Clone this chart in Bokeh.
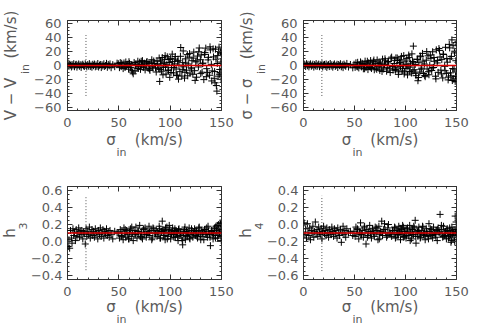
from bokeh.plotting import figure
from bokeh.models import (Range1d, SingleIntervalTicker, LinearAxis, Span, Title,
                          CustomJSTickFormatter)
from bokeh.layouts import gridplot
from bokeh.embed import file_html
from bokeh.resources import INLINE

# ---------------- data ----------------
sigma_in = [
    0.6, 1.4, 2.1, 2.9, 3.8, 4.4, 5.3, 6.1, 6.8, 7.7,
    8.5, 9.2, 10.1, 10.9, 11.6, 12.4, 13.3, 14.0, 14.9, 15.7,
    16.4, 17.3, 18.1, 18.8, 19.7, 20.6, 21.3, 22.2, 22.9, 23.8,
    24.6, 25.3, 26.2, 27.1, 27.8, 28.7, 29.5, 30.3, 31.2, 32.0,
    32.9, 33.6, 34.5, 35.4, 36.2, 37.1, 38.0, 38.8, 39.7, 40.6,
    41.4, 42.5, 44.1, 46.0, 48.3,
    49.5, 50.6, 51.4, 52.3, 53.1, 54.2, 55.0, 55.9, 56.8, 57.6,
    58.7, 59.5, 60.4, 61.3, 62.1, 63.2, 64.0, 64.9, 65.8, 66.6,
    67.7, 68.5, 69.4, 70.3, 71.1, 72.2, 73.0, 73.9, 74.8, 75.6,
    76.7, 77.5, 78.6, 79.4, 80.3, 81.5, 82.6, 84.0, 85.7, 87.8,
    88.9, 89.8, 90.6, 91.5, 92.3, 93.4, 94.2, 95.1, 96.0, 96.8,
    97.9, 98.7, 99.6, 100.5, 101.3, 102.4, 103.2, 104.1, 105.0, 105.8,
    106.9, 107.7, 108.6, 109.5, 110.3, 111.4, 112.2, 113.1, 114.0, 114.8,
    115.9, 116.7, 117.6, 118.5, 119.3, 120.4, 121.2, 122.1, 123.0, 123.8,
    124.9, 125.7, 126.6, 127.5, 128.3, 129.4, 130.2, 131.1, 132.0, 132.8,
    133.9, 134.7, 135.6, 136.5, 137.3, 138.4, 139.2, 140.1, 141.0, 141.8,
    142.9, 143.7, 144.6, 145.5, 146.3, 147.2, 148.0, 148.7, 149.3, 149.8,
    52.8, 56.2, 59.9, 62.6, 66.1, 69.0, 71.8, 74.3, 77.0, 79.9,
    82.1, 83.3, 85.0, 86.4, 87.2, 89.3, 90.1, 91.9, 93.0, 94.7,
    95.5, 97.2, 98.3, 99.1, 100.8, 102.0, 103.7, 104.6, 106.3, 107.3,
    108.1, 110.0, 111.8, 112.7, 114.4, 115.3, 117.1, 118.9, 120.8, 122.5,
    124.3, 126.1, 127.9, 129.8, 131.5, 133.4, 135.2, 136.9, 138.8, 140.5,
    142.2, 143.3, 144.1, 145.0, 145.9, 146.7, 147.6, 148.3, 149.0, 149.6,
]

dv = [
    3.5, -1.2, 2.0, 0.5, -2.1, 1.4, -0.6, 2.6, -1.8, 0.9,
    1.7, -2.4, 0.3, 2.2, -1.1, 1.0, -2.8, 0.7, 1.9, -0.4,
    -1.5, 2.4, 0.2, -2.0, 1.3, -0.9, 2.7, -1.6, 0.6, -2.5,
    1.8, -0.3, 2.1, -1.9, 0.8, -1.2, 2.9, -2.2, 0.4, 1.5,
    -3.0, 1.1, -0.7, 2.5, -1.4, 0.0, 3.1, -2.6, 1.6, -0.5,
    2.3, -3.2, 1.2, -1.7, 3.4,
    2.5, -3.1, 4.2, -1.6, 0.8, -4.5, 3.6, -2.2, 5.1, -0.7,
    1.9, -5.3, 3.0, -2.8, 0.4, -9.5, -12.0, 4.4, -7.8, 2.1,
    -3.9, 6.2, -1.3, 4.8, -5.6, 1.5, 7.0, -2.6, 3.3, -6.4,
    0.9, 5.7, -4.1, 2.8, -7.1, 4.0, -1.8, 6.5, -3.4, 1.2,
    -4.1, -23.0, 6.3, -8.2, 11.5, -2.7, 3.9, 14.2, -12.4, 1.8,
    -6.5, 8.7, -17.1, 10.3, -3.2, 5.6, -10.8, 2.4, 12.9, -5.1,
    -14.6, 7.4, 0.6, -8.9, 26.0, -15.3, 4.1, -1.9, -18.2, 9.6,
    -6.8, 15.7, 2.2, 12.1, -11.0, -3.3, 6.9, -12.7, 19.4, -7.5,
    5.2, -16.9, 13.6, -2.1, 25.3, 8.4, 15.2, -9.7, 3.5, -20.4,
    18.6, 25.1, -4.6, -10.3, 11.8, -14.1, 22.5, 1.7, -7.8, 24.0,
    -18.5, -25.0, 9.1, -37.0, 14.3, 20.2, -12.6, -10.2, 5.0, 16.8,
    3.2, -2.4, 5.5, -6.8, 1.1, -4.3, 6.1, -1.9, 4.7, -5.2,
    8.3, -3.6, 2.9, -9.4, 6.7, 10.8, -5.9, 3.1, -13.5, 8.9,
    -2.2, 12.6, -7.4, 4.3, -10.1, 16.4, -3.0, 9.2, -13.8, 6.0,
    -19.7, 13.3, -6.1, 21.0, -9.8, 3.7, -14.9, 17.2, -4.8, 10.7,
    -21.5, 6.6, 19.8, -11.7, 2.6, 16.0, -16.2, 8.1, 27.0, -22.3,
    12.4, -8.8, 23.6, -29.0, 2.9, -15.4, 26.5, -5.7, 19.1, -19.9,
]

dsig = [
    2.1, 0.8, -1.5, 2.6, -0.4, 1.7, -2.0, 0.9, 2.4, -1.1,
    0.3, 1.9, -2.3, 1.2, -0.6, 2.8, -1.4, 0.5, 2.0, -1.8,
    1.0, -0.2, 2.5, -2.1, 0.7, 1.6, -1.0, 2.2, -2.7, 0.4,
    1.3, -1.6, 2.9, -0.8, 1.1, -2.4, 0.6, 2.3, -1.3, 0.1,
    1.8, -2.9, 1.4, -0.3, 2.6, -1.9, 0.9, -3.1, 2.0, 0.2,
    -1.2, 3.0, -2.2, 1.5, -3.4,
    1.8, -2.7, 3.9, -1.2, 4.6, -3.5, 0.6, 5.2, -2.0, 3.1,
    -4.8, 1.5, 6.3, -3.0, 2.4, -5.9, 4.0, -1.7, 7.1, -4.4,
    0.9, 5.6, -6.2, 2.7, -3.8, 8.0, -1.1, 4.9, -7.0, 3.4,
    -2.5, 9.2, -5.1, 1.6, 6.8, -8.3, 3.8, -4.0, 10.5, -6.6,
    2.8, -5.6, 11.0, -3.4, 7.2, -9.1, 4.5, -1.6, 13.2, -7.8,
    0.9, -12.3, 6.4, -4.2, 9.8, -2.0, 15.1, -8.6, 3.3, -10.9,
    5.7, 28.0, -6.1, 1.4, -14.7, 8.9, -22.0, 4.0, -9.5, 12.6,
    -3.8, 17.5, -11.6, 2.1, -16.2, 7.7, -5.0, 14.0, -13.4, 0.5,
    10.4, -7.2, 19.8, -2.9, 6.1, -15.5, 22.6, 3.7, -9.9, 24.5,
    12.3, -6.7, 8.5, -18.0, 15.9, -1.2, 26.3, -11.3, 4.8, -20.8,
    30.5, 9.6, -14.9, 37.0, -4.4, -19.6, 18.2, -23.0, 6.9, -8.0,
    -1.9, 3.5, -4.7, 6.2, -2.8, 7.9, -5.5, 2.4, -8.6, 9.7,
    -3.2, 5.8, -10.2, 12.1, -1.4, 7.5, -6.9, 10.9, -12.8, 3.6,
    8.2, -4.6, 14.3, -9.3, 1.7, -13.6, 11.4, -2.3, 16.8, -7.9,
    4.9, -11.2, 9.0, -17.4, 13.7, -5.3, 6.3, -14.5, 20.1, -9.0,
    15.2, -3.5, 11.6, -19.3, 7.3, 21.8, -12.1, 16.5, -7.6, 10.2,
    -16.8, 25.4, -10.6, 13.1, -21.7, 28.6, -5.2, 20.7, -15.8, 33.0,
]

h3 = [
    -0.06, 0.02, -0.08, 0.13, 0.04, -0.02, 0.15, 0.07, 0.11, 0.01,
    0.14, 0.06, 0.10, 0.16, 0.05, 0.12, 0.08, 0.13, 0.03, 0.11,
    0.09, -0.03, 0.15, 0.06, 0.12, 0.08, 0.17, 0.04, 0.10, 0.14,
    0.07, 0.12, 0.05, 0.15, 0.09, 0.11, 0.03, 0.13, 0.08, 0.16,
    0.06, 0.10, 0.14, 0.04, 0.12, 0.09, 0.15, 0.07, 0.11, 0.05,
    0.13, 0.08, 0.03, 0.12, 0.10,
    0.10, 0.04, 0.14, 0.07, 0.12, 0.02, 0.16, 0.09, 0.05, 0.13,
    0.08, 0.03, 0.11, 0.15, 0.06, 0.10, 0.01, 0.13, 0.08, 0.17,
    0.04, 0.12, 0.09, 0.19, 0.06, 0.11, 0.03, 0.14, 0.08, 0.16,
    0.05, 0.12, 0.10, 0.18, 0.07, 0.13, 0.04, 0.15, 0.09, 0.11,
    0.09, 0.15, 0.04, 0.12, 0.24, 0.07, 0.13, 0.02, 0.10, 0.17,
    0.06, 0.11, 0.14, 0.03, 0.09, 0.16, 0.08, 0.12, 0.05, 0.13,
    0.10, 0.01, 0.15, 0.07, 0.11, 0.04, -0.04, 0.09, 0.14, 0.02,
    0.12, 0.06, 0.10, 0.16, 0.03, 0.08, 0.13, 0.05, 0.11, 0.15,
    0.07, 0.12, 0.04, 0.10, 0.17, 0.08, 0.13, 0.06, 0.11, 0.02,
    0.14, 0.09, 0.16, 0.05, 0.12, 0.08, -0.05, 0.13, 0.10, 0.03,
    0.15, 0.07, 0.18, 0.11, 0.04, 0.20, 0.09, 0.22, 0.14, 0.01,
    0.06, 0.14, 0.03, 0.17, 0.09, 0.12, 0.05, 0.15, 0.08, 0.11,
    0.02, 0.16, 0.10, 0.13, 0.06, 0.18, 0.04, 0.12, 0.14, 0.07,
    0.16, 0.03, 0.11, 0.19, 0.08, 0.13, 0.05, 0.15, 0.10, 0.06,
    0.14, 0.09, 0.01, 0.12, 0.17, 0.07, 0.11, 0.04, 0.15, 0.09,
    0.13, 0.06, 0.16, 0.02, 0.11, 0.14, 0.08, 0.18, 0.05, 0.12,
    0.09, 0.16, 0.04, 0.13, 0.19, 0.07, 0.15, 0.11, 0.21, 0.06,
]

h4 = [
    0.02, -0.12, -0.05, -0.16, 0.01, -0.09, -0.13, -0.04, -0.18, -0.07,
    -0.11, -0.02, -0.15, -0.08, 0.03, -0.10, -0.06, -0.14, -0.03, -0.09,
    -0.12, -0.05, -0.17, -0.08, -0.02, -0.11, -0.07, -0.13, -0.04, -0.10,
    -0.15, -0.06, -0.09, -0.12, -0.03, -0.08, -0.14, -0.05, -0.11, -0.07,
    -0.16, -0.04, -0.10, -0.13, -0.06, -0.21, -0.09, -0.02, -0.12, -0.07,
    -0.15, -0.05, -0.10, -0.08, -0.13,
    -0.08, -0.14, -0.03, -0.11, -0.06, -0.17, -0.09, 0.02, -0.12, -0.07,
    -0.15, -0.04, -0.10, -0.23, -0.06, -0.13, -0.08, -0.01, -0.11, -0.16,
    -0.05, -0.09, -0.14, -0.03, -0.10, -0.07, -0.18, -0.02, -0.12, -0.08,
    0.04, -0.13, -0.06, 0.01, -0.10, -0.15, -0.04, -0.09, -0.12, -0.07,
    -0.10, -0.04, -0.15, -0.07, -0.12, -0.02, -0.09, -0.18, -0.06, -0.11,
    -0.03, -0.14, -0.08, -0.16, -0.05, -0.10, -0.13, -0.01, -0.09, -0.17,
    -0.06, -0.12, -0.04, 0.05, -0.22, -0.08, -0.14, -0.03, -0.10, -0.15,
    -0.07, -0.02, -0.12, -0.09, -0.18, -0.05, -0.11, -0.14, 0.01, -0.08,
    -0.13, -0.06, -0.16, -0.03, -0.10, -0.12, -0.07, -0.19, -0.04, -0.09,
    0.12, -0.11, -0.06, -0.15, -0.02, -0.13, -0.08, -0.17, -0.05, -0.10,
    -0.14, -0.07, -0.21, -0.03, -0.12, -0.09, -0.18, 0.10, -0.06, -0.11,
    -0.05, -0.12, -0.02, -0.15, -0.08, -0.11, -0.04, -0.17, -0.09, -0.06,
    -0.13, 0.00, -0.10, -0.14, -0.07, -0.03, -0.16, -0.09, -0.12, -0.05,
    -0.11, -0.01, -0.15, -0.08, -0.13, -0.04, -0.10, -0.19, -0.06, -0.12,
    -0.02, -0.14, -0.09, -0.07, -0.16, -0.11, -0.03, -0.13, -0.08, -0.17,
    -0.05, -0.12, -0.10, -0.15, -0.06, -0.09, -0.01, -0.14, -0.11, -0.07,
    -0.16, -0.04, -0.12, -0.19, -0.08, -0.13, -0.06, -0.20, -0.10, 0.03,
]

x_limits = (0, 150)
y_limits = [(-65, 65), (-65, 65), (-0.45, 0.65), (-0.65, 0.45)]
y_tick_step = [20, 20, 0.2, 0.2]
y_tick_decimals = [0, 0, 1, 1]
ref_levels = [0.0, 0.0, 0.1, -0.1]          # red reference lines
cut_sigma = 18.0                             # dotted vertical line
cut_extent = [(-44, 44), (-44, 44), (-0.34, 0.53), (-0.55, 0.34)]

FS = "\u2007"   # figure space, keeps room for subscripts
x_title_main = "\u03c3" + FS + FS + "(km/s)"
x_title_sub = "in"
y_title_main = ["V \u2212 V" + FS + FS + "(km/s)",
                "\u03c3 \u2212 \u03c3" + FS + FS + "(km/s)",
                "h", "h"]
y_title_sub = ["in" + FS, "in" + FS, FS + FS + "3", FS + FS + "4"]

# ---------------- style ----------------
FONT = "DejaVu Sans"
TXT = "#5a5a5a"
INK = "#333333"


def fmt(dec):
    return CustomJSTickFormatter(code="""
        const a = Math.abs(tick) < 1e-9 ? 0 : tick;
        const s = Math.abs(a).toFixed(%d);
        return (a < 0 ? '\\u2212' : '') + s;
    """ % dec)


def style_axis(ax, show, standoff=6):
    ax.axis_line_color = None
    ax.major_tick_in = 5
    ax.major_tick_out = 0
    ax.minor_tick_in = 2
    ax.minor_tick_out = 0
    ax.major_tick_line_color = INK
    ax.minor_tick_line_color = INK
    ax.major_label_text_font = FONT
    ax.major_label_text_color = TXT
    ax.axis_label_text_font = FONT
    ax.axis_label_text_color = TXT
    ax.axis_label_text_font_style = "normal"
    if show:
        ax.major_label_text_font_size = "13px"
        ax.major_label_standoff = standoff
    else:
        ax.formatter = CustomJSTickFormatter(code="return ''")
        ax.major_label_text_font_size = "1px"
        ax.major_label_standoff = 0


def title(text, size, **kw):
    return Title(text=text, text_font=FONT, text_font_size=size,
                 text_color=TXT, text_font_style="normal", **kw)


def panel(i, ys, fw, fh, borders):
    left, right, top, bottom = borders
    top_row = i < 2
    p = figure(frame_width=fw, frame_height=fh,
               x_range=Range1d(*x_limits), y_range=Range1d(*y_limits[i]),
               output_backend="svg", toolbar_location=None, tools="",
               min_border_left=left, min_border_right=right,
               min_border_top=top, min_border_bottom=bottom,
               x_axis_location=None, y_axis_location=None)
    p.grid.visible = False
    p.outline_line_color = INK
    p.outline_line_width = 1
    p.background_fill_color = "white"
    p.border_fill_color = "white"

    xt = SingleIntervalTicker(interval=50, num_minor_ticks=5)
    yt = SingleIntervalTicker(interval=y_tick_step[i], num_minor_ticks=4)

    xb = LinearAxis(ticker=xt, formatter=fmt(0))
    style_axis(xb, True, 7)
    xb.axis_label = x_title_main
    xb.axis_label_text_font_size = "15px"
    xb.axis_label_standoff = 1 if top_row else -1
    p.add_layout(xb, "below")
    xa = LinearAxis(ticker=xt)
    style_axis(xa, False)
    p.add_layout(xa, "above")

    yl = LinearAxis(ticker=yt, formatter=fmt(y_tick_decimals[i]))
    style_axis(yl, True, 6 if top_row else 5)
    yl.axis_label = y_title_sub[i]
    yl.axis_label_text_font_size = "11px"
    yl.axis_label_standoff = -1 if top_row else -2
    p.add_layout(yl, "left")
    yr = LinearAxis(ticker=yt)
    style_axis(yr, False)
    p.add_layout(yr, "right")

    p.add_layout(title(y_title_main[i], "15px", align="center",
                       standoff=-7 if top_row else -10), "left")
    p.add_layout(title(x_title_sub, "11px", align="left", offset=49,
                       standoff=-15), "below")

    lo, hi = cut_extent[i]
    p.segment(x0=[cut_sigma], y0=[lo], x1=[cut_sigma], y1=[hi],
              line_color="#555555", line_width=1, line_dash="1 2")
    p.scatter(sigma_in, ys, marker="cross", size=7, line_color="black",
              line_width=1)
    p.add_layout(Span(location=ref_levels[i], dimension="width",
                      line_color="#e00000", line_width=1.5))
    return p


p1 = panel(0, dv, 154, 90, (67, 15, 20, 60))
p2 = panel(1, dsig, 153, 90, (67, 28, 20, 60))
p3 = panel(2, h3, 154, 93, (67, 15, 16, 52))
p4 = panel(3, h4, 153, 93, (67, 28, 16, 52))

grid = gridplot([[p1, p2], [p3, p4]], toolbar_location=None)

with open("out.html", "w", encoding="utf-8") as f:
    f.write(file_html(grid, INLINE))
